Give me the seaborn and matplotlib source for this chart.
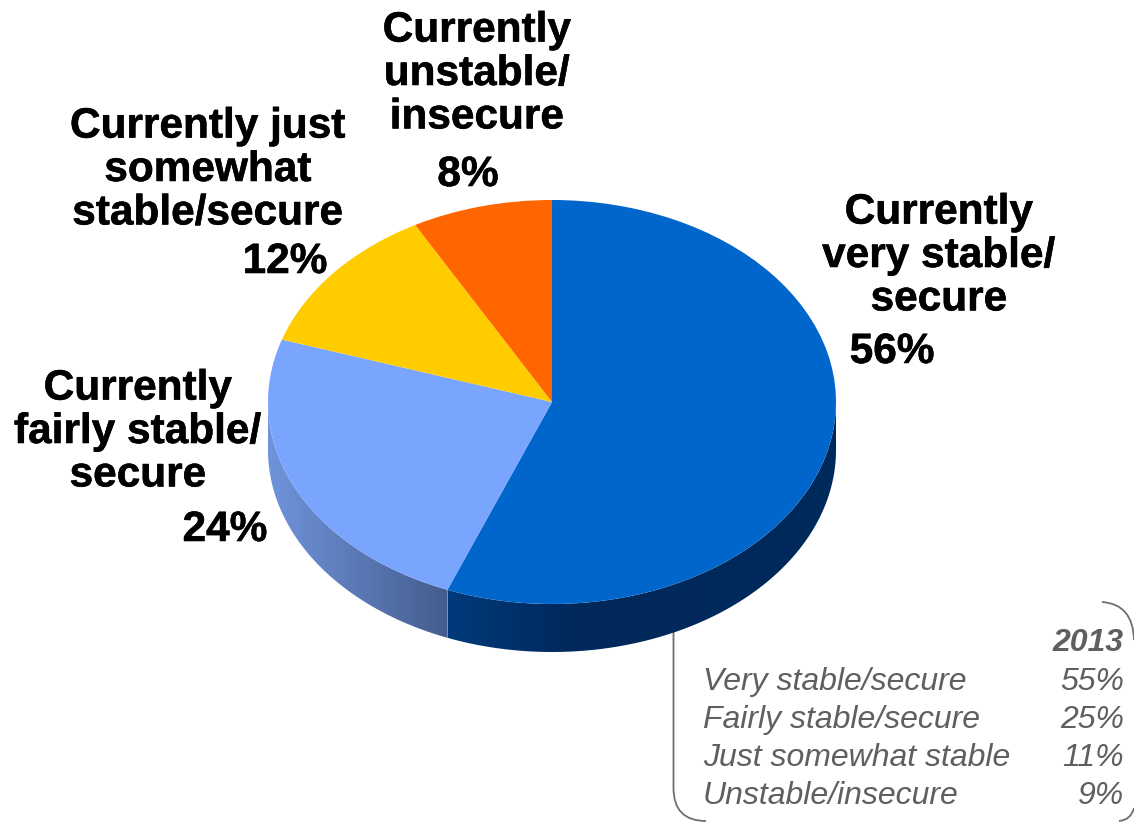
import numpy as np
import matplotlib
matplotlib.use("Agg")
import matplotlib.pyplot as plt
import matplotlib.patheffects as pe
from matplotlib.colors import LinearSegmentedColormap
from matplotlib.path import Path
from matplotlib.patches import PathPatch
import seaborn as sns

sns.set_theme(style="white")
plt.rcParams['font.family'] = ['Liberation Sans', 'DejaVu Sans']

values = [56, 24, 12, 8]
slice_labels = ["Currently\nvery stable/\nsecure", "Currently\nfairly stable/\nsecure",
                "Currently just\nsomewhat\nstable/secure", "Currently\nunstable/\ninsecure"]
slice_colors = ["#0066CC", "#7AA5FF", "#FFCC00", "#FF6600"]
prior_year = "2013"
prior_labels = ["Very stable/secure", "Fairly stable/secure", "Just somewhat stable", "Unstable/insecure"]
prior_values = [55, 25, 11, 9]

W, H = 1134, 822
CX, CY, RX, RY, DEPTH = 552, 402, 284, 202, 48

fig = plt.figure(figsize=(W / 100, H / 100), dpi=100, facecolor="white")

# background layer in pixel coordinates
bg = fig.add_axes([0, 0, 1, 1], zorder=0)
bg.set_xlim(0, W); bg.set_ylim(H, 0); bg.axis("off")
C3, L2, M = Path.CURVE3, Path.LINETO, Path.MOVETO
verts = [(673.5, 620), (673.5, 788), (673.5, 821), (706, 821),
         (1102, 602), (1133, 604), (1134, 640),
         (1119, 821), (1131, 820), (1134, 808)]
codes = [M, L2, C3, C3, M, C3, C3, M, C3, C3]
bg.add_patch(PathPatch(Path(verts, codes), fc="none", ec="#6E6E6E", lw=1.3, clip_on=False))

# pie layer: one data unit equals the radius along each axis
ax = fig.add_axes([0, 0, 1, 1], zorder=1)
ax.patch.set_visible(False)
wedges, _ = ax.pie(values, colors=slice_colors, startangle=90, counterclock=False,
                   wedgeprops=dict(linewidth=0))
ax.set_aspect("auto")
xlim = (-CX / RX, (W - CX) / RX)
ylim = (-(H - CY) / RY, CY / RY)
dz = DEPTH / RY


def wall(a0, a1, stops, x0, x1):
    t = np.radians(np.linspace(a0, a1, 160))
    x, y = np.cos(t), np.sin(t)
    poly = ax.fill(np.r_[x, x[::-1]], np.r_[y, y[::-1] - dz], fc="none", ec="none", zorder=0)[0]
    cmap = LinearSegmentedColormap.from_list("w", stops)
    im = ax.imshow(np.linspace(0, 1, 256)[None, :], cmap=cmap, aspect="auto", zorder=0,
                   extent=((x0 - CX) / RX, (x1 - CX) / RX, -1.5, 0.5))
    im.set_clip_path(poly)


cum = 90 - 3.6 * np.cumsum(values)
wall(cum[0], 0, [(0, "#003A7C"), (0.33, "#00285A"), (1, "#002A5C")], 447, 836)
wall(-180, cum[0], ["#7094DC", "#445D8E"], 268, 447)
ax.set_xlim(*xlim); ax.set_ylim(*ylim)
ax.set_frame_on(False)

# labels in pixel coordinates
stroke = [pe.withStroke(linewidth=0.4, foreground="black")]
big = dict(fontsize=30.5, fontweight="bold", color="black", linespacing=1.11, ha="center", va="center",
           path_effects=stroke)
bg.text(939, 256, slice_labels[0], **big)
bg.text(892, 352, f"{values[0]}%", **big)
bg.text(138, 432, slice_labels[1], **big)
bg.text(225, 530, f"{values[1]}%", **big)
bg.text(208, 170, slice_labels[2], **big)
bg.text(285, 262, f"{values[2]}%", **big)
bg.text(477, 74, slice_labels[3], **big)
bg.text(468, 175, f"{values[3]}%", **big)

small = dict(fontsize=23, fontstyle="italic", color="#5F5F5F", va="center")
bg.text(1124, 643, prior_year, ha="right", fontweight="bold", **small)
for y, lab, v in zip([682, 720, 758, 796], prior_labels, prior_values):
    bg.text(703, y, lab, ha="left", **small)
    bg.text(1124, y, f"{v}%", ha="right", **small)

fig.savefig("out.png", dpi=100, facecolor="white")
